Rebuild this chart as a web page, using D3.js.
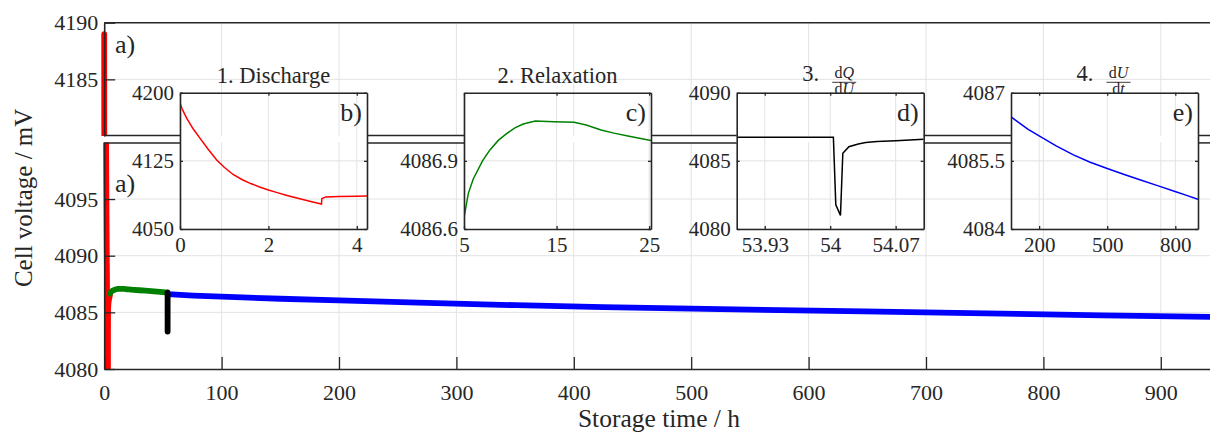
<!DOCTYPE html>
<html>
<head>
<meta charset="utf-8">
<script src="https://cdn.jsdelivr.net/npm/d3@7"></script>
<style>
  body { margin: 0; background: #fff; }
  svg text { font-family: "Liberation Serif", Tinos, "Times New Roman", "DejaVu Serif", "Noto Serif", serif; fill: #262626; }
</style>
</head>
<body>
<svg id="chart" width="1210" height="433"></svg>
<script>
const serifFont = '"Liberation Serif", Tinos, "Times New Roman", "DejaVu Serif", "Noto Serif", serif';

// ---- Measured cell voltage during storage (time in h, voltage in mV) ----
const dischargeData = [
  [0, 4189], [0.02, 4186], [0.05, 4182], [0.1, 4177], [0.15, 4172], [0.3, 4160],
  [0.45, 4150], [0.65, 4137], [0.83, 4126], [1.0, 4118], [1.2, 4110], [1.4, 4104.5],
  [1.6, 4100], [1.8, 4096.3], [2.0, 4093], [2.2, 4090], [2.4, 4087.2], [2.6, 4084.6],
  [2.8, 4082.2], [3.0, 4079.8], [3.2, 4077.5], [3.21, 4083.5], [3.3, 4085.3],
  [3.6, 4085.8], [4.0, 4086.1], [4.5, 4086.3], [5.0, 4086.6]
];
const relaxationData = [
  [5.0, 4086.65], [5.47, 4086.757], [6.0, 4086.82], [7.0, 4086.9], [7.8, 4086.948],
  [8.7, 4086.99], [9.6, 4087.02], [10.5, 4087.045], [11.4, 4087.062], [12.7, 4087.075],
  [14.7, 4087.072], [16.9, 4087.07], [18.2, 4087.058], [19.8, 4087.036], [21.2, 4087.022],
  [22.7, 4087.009], [25.2, 4086.989], [30, 4086.95], [35, 4086.91], [40, 4086.87],
  [45, 4086.83], [50, 4086.79], [53.9, 4086.75]
];
// dQ/dU pulse, high-resolution record
const pulseData = [
  [53.9, 4086.74], [54.0034, 4086.73], [54.006, 4081.77], [54.011, 4081.0],
  [54.0135, 4085.56], [54.02, 4086.04], [54.03, 4086.24], [54.038, 4086.34],
  [54.05, 4086.42], [54.07, 4086.48], [54.1, 4086.59]
];
// dQ/dU pulse as stored in the overview log
const pulseOverview = [
  [53.9, 4086.75], [54.0, 4086.7], [54.005, 4083.3], [54.02, 4086.0], [54.1, 4086.6]
];
const selfDischargeData = [
  [54.1, 4086.6], [76, 4086.47], [100, 4086.38], [150, 4086.2], [200, 4086.05],
  [275, 4085.83], [351, 4085.63], [425, 4085.47], [500, 4085.33], [575, 4085.2],
  [647, 4085.08], [725, 4084.95], [802, 4084.82], [850, 4084.74], [896, 4084.66],
  [950, 4084.58]
];

// ---- Tick labels ----
const timeTicks = [0, 100, 200, 300, 400, 500, 600, 700, 800, 900];
const lowVoltTicks = [4080, 4085, 4090, 4095];
const highVoltTicks = [4185, 4190];

const insetDefs = [
  { title: "1. Discharge", tag: "b)", color: "#ff0000", data: dischargeData,
    xDomain: [0, 4.23], yDomain: [4050, 4200], xTicks: [0, 2, 4], yTicks: [4050, 4125, 4200],
    xFmt: d => String(d), yFmt: d => String(d), left: 180 },
  { title: "2. Relaxation", tag: "c)", color: "#008000", data: relaxationData,
    xDomain: [5, 25.2], yDomain: [4086.6, 4087.2], xTicks: [5, 15, 25], yTicks: [4086.6, 4086.9],
    gridY: [4086.9], xFmt: d => String(d), yFmt: d => d.toFixed(1), left: 464 },
  { title: "3.", frac: ["d", "Q", "d", "U"], tag: "d)", color: "#000000", data: pulseData,
    xDomain: [53.9, 54.1], yDomain: [4080, 4090], xTicks: [53.93, 54, 54.07], yTicks: [4080, 4085, 4090],
    xFmt: d => String(d), yFmt: d => String(d), left: 736.7 },
  { title: "4.", frac: ["d", "U", "d", "t"], tag: "e)", color: "#0000ff", data: selfDischargeData,
    xDomain: [76, 900], yDomain: [4084, 4087], xTicks: [200, 500, 800], yTicks: [4084, 4085.5, 4087],
    xFmt: d => String(d), yFmt: d => String(d), left: 1011 }
];

const svg = d3.select("#chart");
const axisColor = "#262626";
const gridColor = "#e3e3e3";

// ---- Main axes (broken y axis) ----
const x = d3.scaleLinear().domain([0, 950]).range([104.2, 1219.5]);
const yLow = d3.scaleLinear().domain([4080, 4100]).range([369, 142.4]);
const yHigh = d3.scaleLinear().domain([4180, 4190]).range([136, 22.7]);

const panels = [
  { id: "clipHigh", y: yHigh, grid: [4185] },
  { id: "clipLow", y: yLow, grid: [4085, 4090, 4095] }
];

const mainSeries = [
  { data: dischargeData, color: "#ff0000" },
  { data: relaxationData, color: "#008000" },
  { data: selfDischargeData, color: "#0000ff" },
  { data: pulseOverview, color: "#000000" }
];

const defs = svg.append("defs");

panels.forEach(p => {
  const [y0, y1] = p.y.range();
  const top = Math.min(y0, y1), bottom = Math.max(y0, y1);
  const x0 = x.range()[0], x1 = 1210;
  // thick lines may spill a little over the left axis
  defs.append("clipPath").attr("id", p.id).append("rect")
    .attr("x", x0 - 4).attr("y", top).attr("width", x1 - x0 + 4).attr("height", bottom - top);

  const g = svg.append("g");
  g.selectAll(".vg").data(timeTicks.slice(1)).join("line")
    .attr("x1", d => x(d)).attr("x2", d => x(d)).attr("y1", top).attr("y2", bottom)
    .attr("stroke", gridColor).attr("stroke-width", 1);
  g.selectAll(".hg").data(p.grid).join("line")
    .attr("x1", x0).attr("x2", x1).attr("y1", d => p.y(d)).attr("y2", d => p.y(d))
    .attr("stroke", gridColor).attr("stroke-width", 1);

  const line = d3.line().x(d => x(d[0])).y(d => p.y(d[1]));
  const lg = g.append("g").attr("clip-path", `url(#${p.id})`);
  mainSeries.forEach(s => {
    lg.append("path").datum(s.data).attr("d", line)
      .attr("fill", "none").attr("stroke", s.color).attr("stroke-width", 5.8)
      .attr("stroke-linecap", "round").attr("stroke-linejoin", "round");
  });
});

function styleAxis(g, size) {
  g.attr("font-family", serifFont);
  g.selectAll("path.domain").attr("stroke", axisColor).attr("stroke-width", 1.6);
  g.selectAll(".tick line").attr("stroke", axisColor).attr("stroke-width", 1.3);
  g.selectAll(".tick text").attr("fill", axisColor).attr("font-size", size)
    .style("font-family", serifFont).style("font-size", size + "px");
}

const plain = d => String(d);
svg.append("g").attr("transform", `translate(${x.range()[0]},0)`)
  .call(d3.axisLeft(yHigh).tickValues(highVoltTicks).tickFormat(plain).tickSizeInner(-11).tickSizeOuter(0).tickPadding(6))
  .call(g => styleAxis(g, 22));
svg.append("g").attr("transform", `translate(${x.range()[0]},0)`)
  .call(d3.axisLeft(yLow).tickValues(lowVoltTicks).tickFormat(plain).tickSizeInner(-11).tickSizeOuter(0).tickPadding(6))
  .call(g => styleAxis(g, 22));
svg.append("g").attr("transform", `translate(0,${yLow.range()[0]})`)
  .call(d3.axisBottom(x).tickValues(timeTicks).tickFormat(plain).tickSizeInner(-12).tickSizeOuter(0).tickPadding(15))
  .call(g => styleAxis(g, 22));
svg.append("line").attr("x1", x.range()[0]).attr("x2", 1210)
  .attr("y1", yHigh.range()[1]).attr("y2", yHigh.range()[1])
  .attr("stroke", axisColor).attr("stroke-width", 1.6);

// axis titles
svg.append("text").attr("transform", `translate(32,${(yHigh.range()[1] + yLow.range()[0]) / 2 + 2}) rotate(-90)`)
  .attr("text-anchor", "middle").style("font-size", "25px").text("Cell voltage / mV");
svg.append("text").attr("x", 659).attr("y", 426.5)
  .attr("text-anchor", "middle").style("font-size", "25.5px").text("Storage time / h");

// panel tags of the overview
svg.append("text").attr("x", 115).attr("y", 53).style("font-size", "26px").text("a)");
svg.append("text").attr("x", 115).attr("y", 192).style("font-size", "26px").text("a)");

// ---- Insets ----
const insetW = 187, insetTop = 92.7, insetBottom = 229;

insetDefs.forEach((d, i) => {
  const ix = d3.scaleLinear().domain(d.xDomain).range([d.left, d.left + insetW]);
  const iy = d3.scaleLinear().domain(d.yDomain).range([insetBottom, insetTop]);
  const g = svg.append("g");
  const cid = "inset" + i;
  defs.append("clipPath").attr("id", cid).append("rect")
    .attr("x", d.left).attr("y", insetTop).attr("width", insetW).attr("height", insetBottom - insetTop);

  g.selectAll(".ivg").data(d.xTicks).join("line")
    .attr("x1", v => ix(v)).attr("x2", v => ix(v)).attr("y1", insetTop).attr("y2", insetBottom)
    .attr("stroke", gridColor);
  g.selectAll(".ihg").data(d.gridY || d.yTicks).join("line")
    .attr("x1", d.left).attr("x2", d.left + insetW).attr("y1", v => iy(v)).attr("y2", v => iy(v))
    .attr("stroke", gridColor);

  g.append("path").datum(d.data).attr("clip-path", `url(#${cid})`)
    .attr("d", d3.line().x(p => ix(p[0])).y(p => iy(p[1])))
    .attr("fill", "none").attr("stroke", d.color).attr("stroke-width", 1.5);

  g.append("g").attr("transform", `translate(0,${insetBottom})`)
    .call(d3.axisBottom(ix).tickValues(d.xTicks).tickFormat(d.xFmt).tickSizeInner(-3).tickSizeOuter(0).tickPadding(8))
    .call(a => styleAxis(a, 21));
  g.append("g").attr("transform", `translate(0,${insetTop})`)
    .call(d3.axisTop(ix).tickValues(d.xTicks).tickFormat("").tickSizeInner(-3).tickSizeOuter(0))
    .call(a => styleAxis(a, 21));
  g.append("g").attr("transform", `translate(${d.left},0)`)
    .call(d3.axisLeft(iy).tickValues(d.yTicks).tickFormat(d.yFmt).tickSizeInner(-3).tickSizeOuter(0).tickPadding(6))
    .call(a => styleAxis(a, 21));
  g.append("g").attr("transform", `translate(${d.left + insetW},0)`)
    .call(d3.axisRight(iy).tickValues(d.yTicks).tickFormat("").tickSizeInner(-3).tickSizeOuter(0))
    .call(a => styleAxis(a, 21));

  g.append("text").attr("x", d.left + insetW - 5).attr("y", insetTop + 28.5)
    .attr("text-anchor", "end").style("font-size", "26px").text(d.tag);

  const cx = d.left + insetW / 2;
  if (!d.frac) {
    g.append("text").attr("x", cx).attr("y", 83).attr("text-anchor", "middle")
      .style("font-size", "22.5px").text(d.title);
  } else {
    g.append("text").attr("x", cx - 28).attr("y", 81).style("font-size", "22.5px").text(d.title);
    const fx = cx + 14;
    const num = g.append("text").attr("x", fx).attr("y", 78).attr("text-anchor", "middle").style("font-size", "16px");
    num.append("tspan").text(d.frac[0]);
    num.append("tspan").style("font-style", "italic").text(d.frac[1]);
    g.append("line").attr("x1", fx - 12).attr("x2", fx + 12).attr("y1", 82.3).attr("y2", 82.3)
      .attr("stroke", axisColor).attr("stroke-width", 0.9);
    const den = g.append("text").attr("x", fx).attr("y", 94).attr("text-anchor", "middle").style("font-size", "16px");
    den.append("tspan").text(d.frac[2]);
    den.append("tspan").style("font-style", "italic").text(d.frac[3]);
  }
});

// ---- Axis break marks, drawn in the gaps between the insets ----
const gapEdges = [x.range()[0]];
insetDefs.forEach(d => { gapEdges.push(d.left, d.left + insetW); });
gapEdges.push(1210);
for (let k = 0; k < gapEdges.length; k += 2) {
  [yHigh.range()[0] - 0.5, yLow.range()[1] + 0.5].forEach(yy => {
    svg.append("line").attr("x1", gapEdges[k]).attr("x2", gapEdges[k + 1])
      .attr("y1", yy).attr("y2", yy).attr("stroke", axisColor).attr("stroke-width", 1.5);
  });
}
</script>
</body>
</html>
